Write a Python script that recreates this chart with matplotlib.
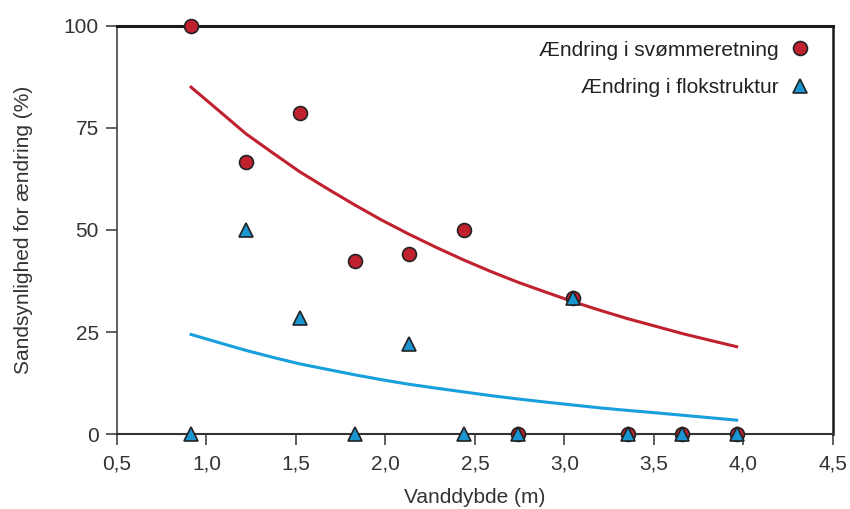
import matplotlib.pyplot as plt

plt.rcParams['font.family'] = ['Liberation Sans', 'DejaVu Sans']

# Vanddybder (m) for observationerne
dybde = [0.914, 1.219, 1.524, 1.829, 2.134, 2.438, 2.743, 3.048, 3.353, 3.658, 3.962]

# Observeret sandsynlighed (%) for ændring
svoemme = [100, 66.7, 78.6, 42.4, 44.0, 50.0, 0, 33.3, 0, 0, 0]
flok = [0, 50.0, 28.4, 0, 22.1, 0, 0, 33.3, 0, 0, 0]

# Tilpassede kurver aflæst langs dybden
kurve_x = [0.914, 1.07, 1.22, 1.37, 1.52, 1.68, 1.83, 1.98, 2.13, 2.29, 2.44,
           2.59, 2.74, 2.90, 3.05, 3.20, 3.35, 3.51, 3.66, 3.81, 3.962]
svoemme_kurve = [85.0, 79.2, 73.6, 68.9, 64.3, 60.0, 56.1, 52.4, 49.0, 45.6, 42.6,
                 39.8, 37.2, 34.7, 32.4, 30.3, 28.3, 26.4, 24.6, 23.0, 21.4]
flok_kurve = [24.4, 22.4, 20.5, 18.8, 17.2, 15.8, 14.5, 13.3, 12.2, 11.2, 10.3,
              9.4, 8.6, 7.8, 7.1, 6.4, 5.8, 5.2, 4.6, 4.0, 3.4]

x_ticks = [0.5, 1.0, 1.5, 2.0, 2.5, 3.0, 3.5, 4.0, 4.5]
y_ticks = [0, 25, 50, 75, 100]

rod = '#C1212F'
blaa = '#1B95D0'

fig = plt.figure(figsize=(8.5, 5.09), dpi=100)
ax = fig.add_axes([0.1376, 0.1473, 0.8424, 0.8017])

ax.plot(kurve_x, svoemme_kurve, color=rod, lw=2.2, zorder=2)
ax.plot(kurve_x, flok_kurve, color='#189FDD', lw=2.2, zorder=2)

ax.plot(dybde, svoemme, 'o', ms=10, color=rod, mec='#222222', mew=1.2,
        label='Ændring i svømmeretning', clip_on=False, zorder=4)
ax.plot(dybde, flok, '^', ms=10, color=blaa, mec='#222222', mew=1.2,
        label='Ændring i flokstruktur', clip_on=False, zorder=5)

ax.set_xlim(0.5, 4.5)
ax.set_ylim(0, 100)
ax.set_xticks(x_ticks)
ax.set_xticklabels([f'{v:.1f}'.replace('.', ',') for v in x_ticks])
ax.set_yticks(y_ticks)

ax.tick_params(direction='out', length=8, width=1.2, color='#444444',
               labelsize=15, labelcolor='#333333', pad=5)
ax.tick_params(axis='x', pad=7)

ax.spines['top'].set_linewidth(2.2)
ax.spines['top'].set_color('#1a1a1a')
ax.spines['right'].set_linewidth(1.8)
ax.spines['right'].set_color('#1a1a1a')
ax.spines['left'].set_linewidth(1.2)
ax.spines['left'].set_color('#444444')
ax.spines['bottom'].set_linewidth(1.5)
ax.spines['bottom'].set_color('#333333')

ax.set_xlabel('Vanddybde (m)', fontsize=15, color='#333333', labelpad=10)
ax.set_ylabel('Sandsynlighed for ændring (%)', fontsize=15, color='#333333', labelpad=22)

leg = ax.legend(loc='upper right', bbox_to_anchor=(0.995, 1.01), frameon=False,
                markerfirst=False, fontsize=15, labelspacing=0.9,
                handletextpad=0.55, handlelength=1.0, alignment='right')
for t in leg.get_texts():
    t.set_color('#222222')
    t.set_ha('right')

fig.savefig('out.png', dpi=100)
